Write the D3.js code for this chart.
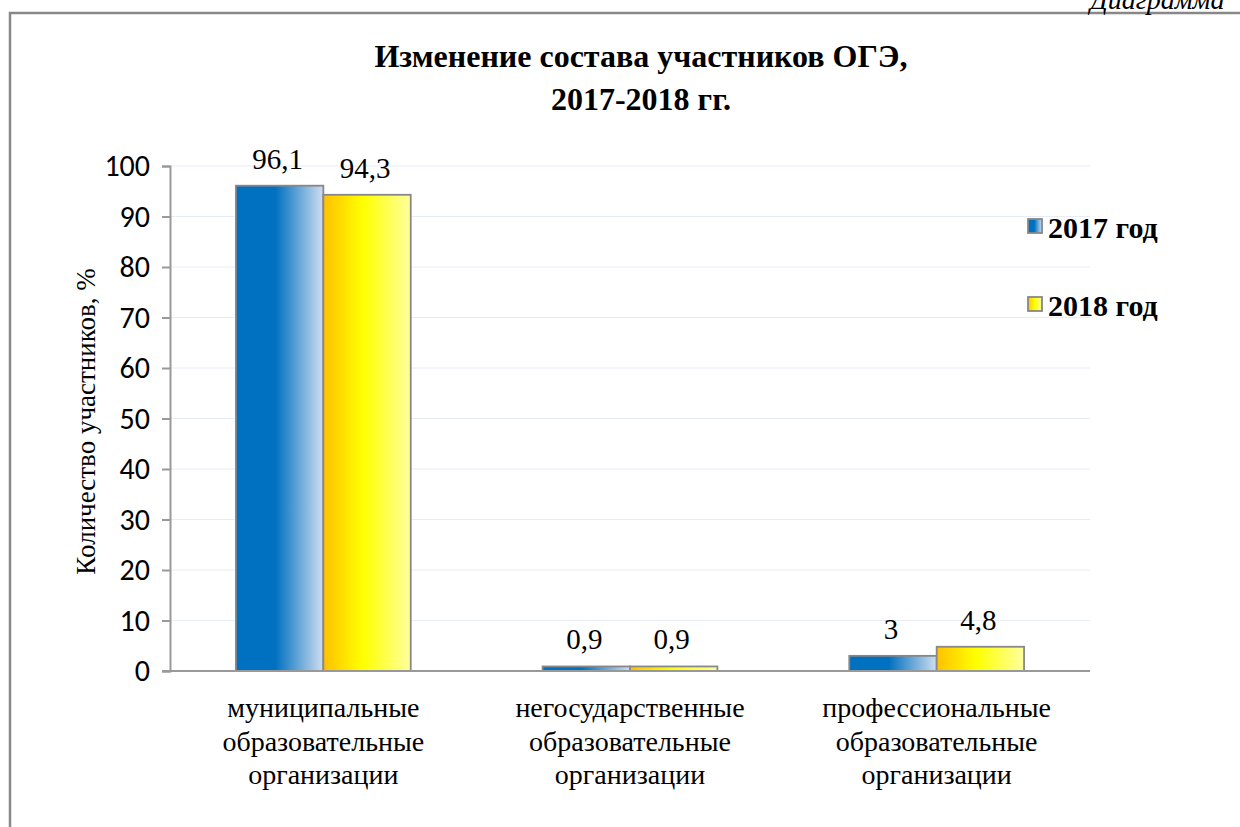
<!DOCTYPE html>
<html>
<head>
<meta charset="utf-8">
<script src="https://cdn.jsdelivr.net/npm/d3@7"></script>
<style>
  body { margin: 0; background: #fff; }
  svg { display: block; }
</style>
</head>
<body>
<div id="chart"></div>
<script>
let categories = [
  ["муниципальные", "образовательные", "организации"],
  ["негосударственные", "образовательные", "организации"],
  ["профессиональные", "образовательные", "организации"]
];
let seriesNames = ["2017 год", "2018 год"];
let values2017 = [96.1, 0.9, 3];
let values2018 = [94.3, 0.9, 4.8];
let valueLabels2017 = ["96,1", "0,9", "3"];
let valueLabels2018 = ["94,3", "0,9", "4,8"];
let yTicks = [0, 10, 20, 30, 40, 50, 60, 70, 80, 90, 100];

let serif = "'Liberation Serif', 'Times New Roman', serif";
let sans = "Carlito, 'Liberation Sans', sans-serif";

let W = 1240, H = 827;
let margin = { top: 166, right: 150, bottom: 156, left: 170 },
  width = W - margin.left - margin.right,
  height = H - margin.top - margin.bottom;

let svg = d3.select("#chart")
  .append("svg")
  .attr("width", W)
  .attr("height", H);

let defs = svg.append("defs");
let gBlue = defs.append("linearGradient").attr("id", "gradBlue")
  .attr("x1", "0%").attr("x2", "100%").attr("y1", "0%").attr("y2", "0%");
gBlue.append("stop").attr("offset", "0%").attr("stop-color", "#0070c0");
gBlue.append("stop").attr("offset", "45%").attr("stop-color", "#0070c0");
gBlue.append("stop").attr("offset", "100%").attr("stop-color", "#d0deef");
let gYel = defs.append("linearGradient").attr("id", "gradYellow")
  .attr("x1", "0%").attr("x2", "100%").attr("y1", "0%").attr("y2", "0%");
gYel.append("stop").attr("offset", "0%").attr("stop-color", "#ffc000");
gYel.append("stop").attr("offset", "45%").attr("stop-color", "#ffff00");
gYel.append("stop").attr("offset", "100%").attr("stop-color", "#ffffa0");
let fills = ["url(#gradBlue)", "url(#gradYellow)"];

// outer frame
svg.append("path")
  .attr("d", "M10,827 L10,13 L1240,13")
  .attr("fill", "none")
  .attr("stroke", "#888")
  .attr("stroke-width", 2.5);

svg.append("text")
  .attr("x", 1090).attr("y", 9)
  .style("font-family", serif)
  .style("font-style", "italic")
  .style("font-size", "28px")
  .text("Диаграмма");

// title
let title = svg.append("text")
  .style("text-anchor", "middle")
  .style("font-family", serif)
  .style("font-weight", "bold")
  .style("font-size", "32px");
title.append("tspan").attr("x", 641).attr("y", 67).text("Изменение состава участников ОГЭ,");
title.append("tspan").attr("x", 641).attr("y", 110).text("2017-2018 гг.");

let g = svg.append("g")
  .attr("transform", "translate(" + margin.left + "," + margin.top + ")");

let y = d3.scaleLinear().domain([0, 100]).range([height, 0]);
let x0 = d3.scaleBand().domain(d3.range(categories.length)).range([0, width])
  .paddingInner(0.43).paddingOuter(0.215);
let x1 = d3.scaleBand().domain([0, 1]).range([0, x0.bandwidth()]);

// gridlines
g.selectAll(".grid").data(yTicks.slice(1)).enter().append("line")
  .attr("x1", 0).attr("x2", width)
  .attr("y1", d => y(d)).attr("y2", d => y(d))
  .attr("stroke", "#e8ecf6").attr("stroke-width", 1);

// y axis
let yAxis = g.append("g").call(d3.axisLeft(y).tickValues(yTicks).tickSize(8).tickPadding(12));
yAxis.select(".domain").attr("stroke", "#999").attr("stroke-width", 2);
yAxis.selectAll(".tick line").attr("stroke", "#999").attr("stroke-width", 2);
yAxis.selectAll(".tick text")
  .style("font-family", sans)
  .style("font-size", "30px").attr("fill", "#000");

let series = [values2017, values2018];
let labels = [valueLabels2017, valueLabels2018];

series.forEach(function (vals, si) {
  g.selectAll(".bar" + si).data(vals).enter().append("rect")
    .attr("x", (d, i) => x0(i) + x1(si))
    .attr("y", d => y(d))
    .attr("width", x1.bandwidth())
    .attr("height", d => height - y(d))
    .attr("fill", fills[si])
    .attr("stroke", "#888")
    .attr("stroke-width", 1.8);

  g.selectAll(".lab" + si).data(vals).enter().append("text")
    .attr("x", (d, i) => x0(i) + x1(si) + x1.bandwidth() / 2 - 2)
    .attr("y", d => y(d) - 17)
    .style("text-anchor", "middle")
    .style("font-family", serif)
    .style("font-size", "29px")
    .text((d, i) => labels[si][i]);
});

// x axis line
g.append("line")
  .attr("x1", -8).attr("x2", width)
  .attr("y1", height).attr("y2", height)
  .attr("stroke", "#999").attr("stroke-width", 2);

// category labels
categories.forEach(function (lines, i) {
  let t = g.append("text")
    .style("text-anchor", "middle")
    .style("font-family", serif)
    .style("font-size", "28px");
  lines.forEach(function (l, k) {
    t.append("tspan")
      .attr("x", x0(i) + x0.bandwidth() / 2)
      .attr("y", height + 46 + k * 33.5)
      .text(l);
  });
});

// y axis title
svg.append("text")
  .attr("transform", "translate(95," + (margin.top + height / 2 + 3) + ") rotate(-90)")
  .style("text-anchor", "middle")
  .style("font-family", serif)
  .style("font-size", "27px")
  .text("Количество участников, %");

// legend
seriesNames.forEach(function (name, i) {
  let ly = 219 + i * 78;
  svg.append("rect")
    .attr("x", 1028).attr("y", ly)
    .attr("width", 14).attr("height", 14)
    .attr("fill", fills[i])
    .attr("stroke", "#888").attr("stroke-width", 1.8);
  svg.append("text")
    .attr("x", 1048).attr("y", ly + 19)
    .style("font-family", serif)
    .style("font-weight", "bold")
    .style("font-size", "30px")
    .text(name);
});
</script>
</body>
</html>
